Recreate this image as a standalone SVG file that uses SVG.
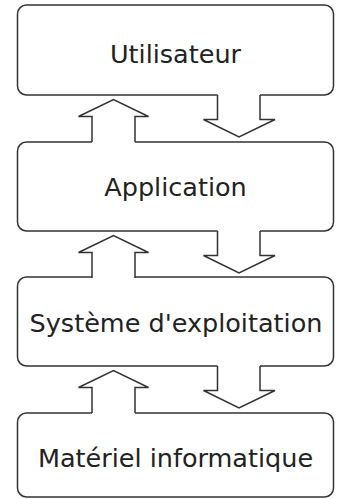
<svg xmlns="http://www.w3.org/2000/svg" width="342" height="499" viewBox="0 0 342 499">
<style>
.box{fill:#fff;stroke:#333;stroke-width:1.5}
.fillA{fill:#fff;stroke:none}
.lineA{fill:none;stroke:#333;stroke-width:1.5;stroke-linejoin:miter}
.lbl{font-family:"DejaVu Sans",sans-serif;font-size:25.5px;fill:#222;text-anchor:middle}
</style>
<defs>
<g id="pair">
<path class="fillA" d="M92,48 L92,21.5 L78.5,21.5 L113.5,4.5 L148.5,21.5 L135,21.5 L135,48 Z"/>
<path class="lineA" d="M92,47 L92,21.5 L78.5,21.5 L113.5,4.5 L148.5,21.5 L135,21.5 L135,47"/>
<path class="fillA" d="M217.5,-1 L217.5,24.5 L203.5,24.5 L239,42 L275,24.5 L260,24.5 L260,-1 Z"/>
<path class="lineA" d="M217.5,0 L217.5,24.5 L203.5,24.5 L239,42 L275,24.5 L260,24.5 L260,0"/>
</g>
</defs>
<g id="n1"><rect class="box" x="17.5" y="5" width="316" height="90" rx="9"/><text class="lbl" x="175.5" y="63">Utilisateur</text></g>
<g id="n2"><rect class="box" x="17.5" y="142" width="316" height="89" rx="9"/><text class="lbl" x="175.5" y="196">Application</text></g>
<g id="n3"><rect class="box" x="17.5" y="277" width="316" height="89" rx="9"/><text class="lbl" x="176" y="332">Système d'exploitation</text></g>
<g id="n4"><rect class="box" x="17.5" y="413" width="316" height="84" rx="9"/><text class="lbl" x="175.5" y="467">Matériel informatique</text></g>
<g id="connectors">
<use href="#pair" transform="translate(0,95)"/>
<use href="#pair" transform="translate(0,231)"/>
<use href="#pair" transform="translate(0,366)"/>
</g>
</svg>
